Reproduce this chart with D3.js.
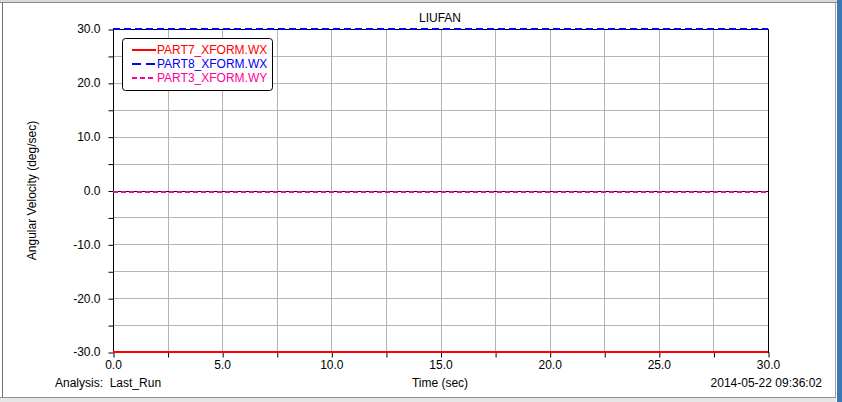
<!DOCTYPE html>
<html><head><meta charset="utf-8">
<script src="https://cdn.jsdelivr.net/npm/d3@7"></script>
<style>body{margin:0;background:#fff}svg{display:block}text{font-family:"Liberation Sans",Arial,sans-serif;font-size:12px}</style>
</head><body>
<script>
const title = "LIUFAN";
const yLabel = "Angular Velocity (deg/sec)";
const xLabel = "Time (sec)";
const timeSec = [0, 5, 10, 15, 20, 25, 30];
const part7WX = [-30, -30, -30, -30, -30, -30, -30];
const part8WX = [30, 30, 30, 30, 30, 30, 30];
const part3WY = [-0.3, -0.3, -0.3, -0.3, -0.3, -0.3, -0.3];
const seriesNames = ["PART7_XFORM.WX", "PART8_XFORM.WX", "PART3_XFORM.WY"];
const xTickLabels = [0, 5, 10, 15, 20, 25, 30];
const yTickLabels = [-30, -20, -10, 0, 10, 20, 30];
const xGrid = [0, 2.5, 5, 7.5, 10, 12.5, 15, 17.5, 20, 22.5, 25, 27.5, 30];
const yGrid = [-30, -25, -20, -15, -10, -5, 0, 5, 10, 15, 20, 25, 30];

const W = 842, H = 402;
const L = 113, R = 768, T = 29, B = 352;
const svg = d3.select("body").append("svg").attr("width", W).attr("height", H);
const fmt = d3.formatLocale({decimal: ".", thousands: ",", grouping: [3], currency: ["", ""], minus: "-"}).format(".1f");

// window frame
svg.append("rect").attr("x",0).attr("y",0).attr("width",W).attr("height",3).attr("fill","#d8d8d8");
svg.append("line").attr("x1",0).attr("x2",W).attr("y1",2.5).attr("y2",2.5).attr("stroke","#8a8a8a");
svg.append("line").attr("x1",2.5).attr("x2",2.5).attr("y1",3).attr("y2",398).attr("stroke","#707070");
svg.append("line").attr("x1",835.5).attr("x2",835.5).attr("y1",3).attr("y2",398).attr("stroke","#a0a0a0");
svg.append("rect").attr("x",837).attr("y",0).attr("width",5).attr("height",H).attr("fill","#3a78b8");
svg.append("line").attr("x1",0).attr("x2",836).attr("y1",397.5).attr("y2",397.5).attr("stroke","#909090");
svg.append("rect").attr("x",0).attr("y",398).attr("width",836).attr("height",4).attr("fill","#e6e6e6");

const x = d3.scaleLinear().domain([0, 30]).range([L, R]);
const y = d3.scaleLinear().domain([-30, 30]).range([B, T]);

// grid
svg.append("g").selectAll("line").data(xGrid).join("line")
  .attr("x1", d => Math.round(x(d)) + 0.5).attr("x2", d => Math.round(x(d)) + 0.5)
  .attr("y1", T).attr("y2", B).attr("stroke", "#b4b4b4");
svg.append("g").selectAll("line").data(yGrid).join("line")
  .attr("y1", d => Math.round(y(d)) + 0.5).attr("y2", d => Math.round(y(d)) + 0.5)
  .attr("x1", L).attr("x2", R).attr("stroke", "#b4b4b4");

// zero line
svg.append("line").attr("x1", L).attr("x2", R)
  .attr("y1", Math.round(y(0)) + 0.5).attr("y2", Math.round(y(0)) + 0.5).attr("stroke", "#000");

// axes
const xAxis = d3.axisBottom(x).tickValues(xGrid).tickSize(5)
  .tickFormat(d => xTickLabels.includes(d) ? fmt(d) : "");
const gx = svg.append("g").attr("transform", `translate(0,${B + 0.5})`).call(xAxis);
gx.select(".domain").remove();
gx.selectAll("line").attr("stroke", "#000").attr("transform", "translate(0.5,0)");
gx.selectAll("text").attr("fill", "#000").attr("dy", "0.9em").attr("y", 6).style("font-size", "12px");

const yAxis = d3.axisLeft(y).tickValues(yGrid).tickSize(5)
  .tickFormat(d => yTickLabels.includes(d) ? fmt(d) : "");
const gy = svg.append("g").attr("transform", `translate(${L + 0.5},0)`).call(yAxis);
gy.select(".domain").remove();
gy.selectAll("line").attr("stroke", "#000").attr("transform", "translate(0,0.5)");
gy.selectAll("text").attr("fill", "#000").attr("x", -13).style("font-size", "12px");

// plot border
svg.append("rect").attr("x", L + 0.5).attr("y", T + 0.5).attr("width", R - L).attr("height", B - T)
  .attr("fill", "none").attr("stroke", "#000");

const line = d3.line().x(d => x(d[0])).y(d => y(d[1]));
const series = [
  {name: seriesNames[0], vals: part7WX, color: "#ff0000", dash: null, ldash: null},
  {name: seriesNames[1], vals: part8WX, color: "#0000ff", dash: "7,4", ldash: "9,5"},
  {name: seriesNames[2], vals: part3WY, color: "#ff0099", dash: "5,3", ldash: "5,3"}
];
series.forEach(s => {
  svg.append("path").datum(timeSec.map((t, i) => [t, s.vals[i]]))
    .attr("d", line).attr("fill", "none").attr("stroke", s.color).attr("stroke-width", 2)
    .attr("stroke-dasharray", s.dash);
});

// legend
const lg = svg.append("g");
lg.append("rect").attr("x", 122.5).attr("y", 38.5).attr("width", 150).attr("height", 52)
  .attr("rx", 3).attr("fill", "#fff").attr("stroke", "#000");
series.forEach((s, i) => {
  const yy = 50 + i * 14;
  lg.append("line").attr("x1", 132).attr("x2", 156).attr("y1", yy).attr("y2", yy)
    .attr("stroke", s.color).attr("stroke-width", 2).attr("stroke-dasharray", s.ldash);
  lg.append("text").attr("x", 157).attr("y", yy + 4).attr("fill", s.color).text(s.name);
});

// texts
svg.append("text").attr("x", 440).attr("y", 22).attr("text-anchor", "middle").text(title);
svg.append("text").attr("transform", `translate(36,${(T + B) / 2}) rotate(-90)`)
  .attr("text-anchor", "middle").text(yLabel);
svg.append("text").attr("x", 440).attr("y", 387).attr("text-anchor", "middle").text(xLabel);
svg.append("text").attr("x", 55).attr("y", 387).attr("xml:space","preserve").style("white-space","pre").text("Analysis:  Last_Run");
svg.append("text").attr("x", 822).attr("y", 387).attr("text-anchor", "end").text("2014-05-22 09:36:02");
</script>
</body></html>
